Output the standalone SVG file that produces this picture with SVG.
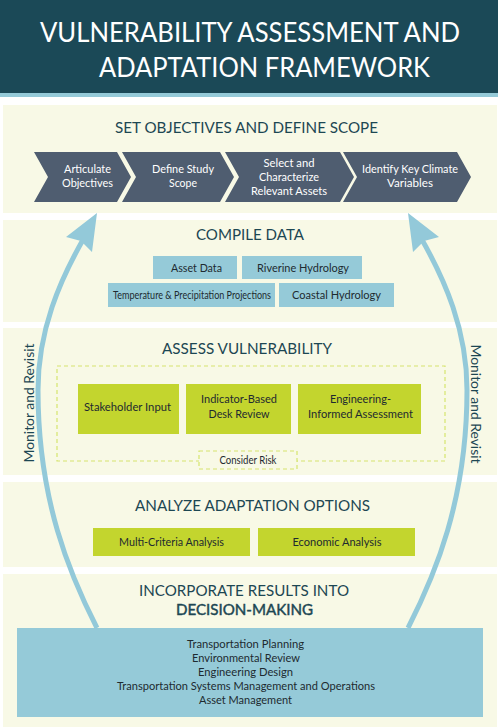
<svg xmlns="http://www.w3.org/2000/svg" width="498" height="728" viewBox="0 0 498 728">
<style>
.panel{fill:#f8f9e6}
.head{font-family:Lato,"Open Sans","Liberation Sans",sans-serif;fill:#1d4753;font-size:15.5px;text-anchor:middle}
.title{font-family:Lato,"Open Sans","Liberation Sans",sans-serif;fill:#ffffff;font-size:26px;text-anchor:middle}
.chev{fill:#4f5d70}
.ctext{font-family:Lato,"Open Sans","Liberation Sans",sans-serif;fill:#ffffff;font-size:10.5px;text-anchor:middle}
.blue{fill:#95cad8}
.green{fill:#c3d52e}
.btext{font-family:Lato,"Open Sans","Liberation Sans",sans-serif;fill:#1e2a30;font-size:10.5px;text-anchor:middle}
.dash{fill:none;stroke:#d6e46e;stroke-width:1.2;stroke-dasharray:4 3}
.curve{fill:none;stroke:#93c9d9;stroke-width:5;stroke-linecap:butt}
.arrowhead{fill:#93c9d9}
.side{font-family:Lato,"Open Sans","Liberation Sans",sans-serif;fill:#1d4753;font-size:12.5px;text-anchor:middle}
</style>
<rect x="0" y="0" width="498" height="728" fill="#ffffff"/>
<g id="header">
<rect x="0" y="0" width="498" height="93" fill="#1b4957"/>
<rect x="0" y="93" width="498" height="4" fill="#95cad8"/>
<text class="title" x="250" y="42" textLength="420" lengthAdjust="spacingAndGlyphs">VULNERABILITY ASSESSMENT AND</text>
<text class="title" x="264.5" y="77" textLength="331" lengthAdjust="spacingAndGlyphs">ADAPTATION FRAMEWORK</text>
</g>
<g id="panels">
<rect class="panel" x="3" y="105" width="494" height="108"/>
<rect class="panel" x="3" y="220" width="494" height="102"/>
<rect class="panel" x="3" y="328" width="494" height="147"/>
<rect class="panel" x="3" y="482" width="494" height="85"/>
<rect class="panel" x="3" y="574" width="494" height="153"/>
</g>
<g id="stage-set-objectives">
<text class="head" x="246.5" y="133" textLength="263" lengthAdjust="spacingAndGlyphs">SET OBJECTIVES AND DEFINE SCOPE</text>
</g>
<g id="articulate-objectives">
<polygon class="chev" points="34,152 117,152 131,177 117,202 34,202 48,177"/>
<text class="ctext" x="87.5" y="173" textLength="47" lengthAdjust="spacingAndGlyphs">Articulate</text>
<text class="ctext" x="87.5" y="187" textLength="51" lengthAdjust="spacingAndGlyphs">Objectives</text>
</g>
<g id="define-study-scope">
<polygon class="chev" points="122,152 220,152 234,177 220,202 122,202 136,177"/>
<text class="ctext" x="183" y="173" textLength="62" lengthAdjust="spacingAndGlyphs">Define Study</text>
<text class="ctext" x="183" y="187">Scope</text>
</g>
<g id="select-assets">
<polygon class="chev" points="225,152 340,152 354,177 340,202 225,202 239,177"/>
<text class="ctext" x="289" y="167" textLength="51" lengthAdjust="spacingAndGlyphs">Select and</text>
<text class="ctext" x="289" y="181" textLength="60" lengthAdjust="spacingAndGlyphs">Characterize</text>
<text class="ctext" x="289" y="195" textLength="76" lengthAdjust="spacingAndGlyphs">Relevant Assets</text>
</g>
<g id="identify-variables">
<polygon class="chev" points="343,152 457,152 471,177 457,202 343,202 357,177"/>
<text class="ctext" x="410" y="173" textLength="96" lengthAdjust="spacingAndGlyphs">Identify Key Climate</text>
<text class="ctext" x="410" y="187" textLength="46" lengthAdjust="spacingAndGlyphs">Variables</text>
</g>
<g id="stage-compile-data">
<text class="head" x="250" y="240" textLength="108" lengthAdjust="spacingAndGlyphs">COMPILE DATA</text>
</g>
<g id="asset-data">
<rect class="blue" x="153" y="256" width="84" height="23"/>
<text class="btext" x="196.5" y="272" textLength="51" lengthAdjust="spacingAndGlyphs">Asset Data</text>
</g>
<g id="riverine-hydrology">
<rect class="blue" x="242" y="256" width="120" height="23"/>
<text class="btext" x="303" y="272" textLength="92" lengthAdjust="spacingAndGlyphs">Riverine Hydrology</text>
</g>
<g id="temperature-precipitation">
<rect class="blue" x="108" y="283" width="167" height="24"/>
<text class="btext" x="192" y="299" font-size="9.5" textLength="158" lengthAdjust="spacingAndGlyphs">Temperature &amp; Precipitation Projections</text>
</g>
<g id="coastal-hydrology">
<rect class="blue" x="279" y="283" width="115" height="24"/>
<text class="btext" x="336.5" y="299" textLength="89" lengthAdjust="spacingAndGlyphs">Coastal Hydrology</text>
</g>
<g id="stage-assess-vulnerability">
<text class="head" x="247" y="354" textLength="170" lengthAdjust="spacingAndGlyphs">ASSESS VULNERABILITY</text>
<rect class="dash" x="57" y="366" width="388" height="95"/>
</g>
<g id="stakeholder-input">
<rect class="green" x="78" y="384" width="101" height="50"/>
<text class="btext" x="127.5" y="411" textLength="87" lengthAdjust="spacingAndGlyphs">Stakeholder Input</text>
</g>
<g id="indicator-review">
<rect class="green" x="186" y="384" width="105" height="50"/>
<text class="btext" x="239" y="403" textLength="76" lengthAdjust="spacingAndGlyphs">Indicator-Based</text>
<text class="btext" x="239" y="418" textLength="61" lengthAdjust="spacingAndGlyphs">Desk Review</text>
</g>
<g id="engineering-assessment">
<rect class="green" x="298" y="384" width="123" height="50"/>
<text class="btext" x="360.5" y="403" textLength="61" lengthAdjust="spacingAndGlyphs">Engineering-</text>
<text class="btext" x="360.5" y="418" textLength="105" lengthAdjust="spacingAndGlyphs">Informed Assessment</text>
</g>
<g id="consider-risk">
<rect x="199" y="451" width="98" height="18" fill="#f8f9e6"/>
<rect class="dash" x="199" y="451" width="98" height="18"/>
<text class="btext" x="248" y="463.5" font-size="10" textLength="57" lengthAdjust="spacingAndGlyphs">Consider Risk</text>
</g>
<g id="stage-analyze-options">
<text class="head" x="252.5" y="511" textLength="235" lengthAdjust="spacingAndGlyphs">ANALYZE ADAPTATION OPTIONS</text>
</g>
<g id="multi-criteria">
<rect class="green" x="93" y="528" width="157" height="28"/>
<text class="btext" x="171.5" y="546" textLength="105" lengthAdjust="spacingAndGlyphs">Multi-Criteria Analysis</text>
</g>
<g id="economic-analysis">
<rect class="green" x="258" y="528" width="157" height="28"/>
<text class="btext" x="337" y="546" textLength="89" lengthAdjust="spacingAndGlyphs">Economic Analysis</text>
</g>
<g id="stage-decision-making">
<text class="head" x="244" y="596" textLength="210" lengthAdjust="spacingAndGlyphs">INCORPORATE RESULTS INTO</text>
<text class="head" x="244.5" y="615" stroke="#1d4753" stroke-width="0.45" textLength="137" lengthAdjust="spacingAndGlyphs">DECISION-MAKING</text>
</g>
<g id="decision-uses">
<rect class="blue" x="17" y="628" width="466" height="89"/>
<text class="btext" x="245.5" y="648" textLength="117" lengthAdjust="spacingAndGlyphs">Transportation Planning</text>
<text class="btext" x="246" y="662" textLength="108" lengthAdjust="spacingAndGlyphs">Environmental Review</text>
<text class="btext" x="245.5" y="676" textLength="95" lengthAdjust="spacingAndGlyphs">Engineering Design</text>
<text class="btext" x="246" y="690" textLength="258" lengthAdjust="spacingAndGlyphs">Transportation Systems Management and Operations</text>
<text class="btext" x="245.5" y="703.5" textLength="93" lengthAdjust="spacingAndGlyphs">Asset Management</text>
</g>
<g id="connectors">
<path class="curve" d="M97,628 C70,575 38,500 38,390 C38,330 60,280 84,238"/>
<polygon class="arrowhead" points="97,213 66,237 81,241 92,252"/>
<path class="curve" d="M408,628 C435,575 467,500 467,390 C467,330 445,280 421,238"/>
<polygon class="arrowhead" points="408,213 439,237 424,241 413,252"/>
<text class="side" transform="translate(34,403) rotate(-90)" textLength="119" lengthAdjust="spacingAndGlyphs">Monitor and Revisit</text>
<text class="side" transform="translate(471,404) rotate(90)" textLength="119" lengthAdjust="spacingAndGlyphs">Monitor and Revisit</text>
</g>
</svg>
